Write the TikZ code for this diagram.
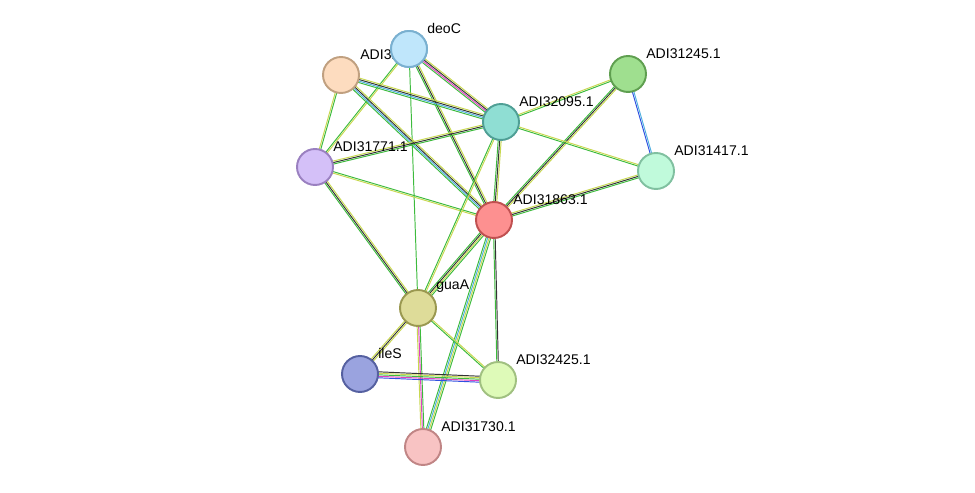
\documentclass[tikz,border=0pt]{standalone}
\usepackage{fontspec}
\setmainfont{Liberation Sans}
\usetikzlibrary{calc,backgrounds}
\definecolor{egreen}{HTML}{3DBB3D}
\definecolor{eyellow}{HTML}{C8D850}
\definecolor{eblack}{HTML}{333333}
\definecolor{eblue}{HTML}{3050E0}
\definecolor{emag}{HTML}{E040C0}
\definecolor{elblue}{HTML}{50B0E0}
\newcommand\pcol[3]{\definecolor{#1f}{HTML}{#2}\definecolor{#1d}{HTML}{#3}}
\pcol{deo}{BFE6FB}{7AB0D0}
\pcol{pea}{FDDCBF}{C0A080}
\pcol{grn}{9FDF8F}{5F9F50}
\pcol{tea}{8FDED3}{4F9F95}
\pcol{lav}{D4C0F8}{9A80C0}
\pcol{min}{C0FADB}{80C0A0}
\pcol{red}{FD9090}{C05050}
\pcol{kha}{DEDC99}{9A9850}
\pcol{ile}{9AA3DF}{5560A0}
\pcol{pal}{DEFAB8}{A0C080}
\pcol{pin}{F8C3C3}{C08585}
\tikzset{
  prot/.style={circle,minimum size=0.72cm,line width=1.1pt,fill=#1f,draw=#1d},
  lab/.style={font=\fontsize{8}{9}\selectfont,inner sep=0pt,anchor=south west}
}
% n-line edge between two named nodes
\newcommand\stredge[4]{%
  \foreach \c [count=\i] in {#4} {%
    \pgfmathsetmacro\o{(\i-(#3+1)/2)*0.85}
    \draw[\c,line width=0.55pt] ($(#1)!\o pt!90:(#2)$) -- ($(#2)!\o pt!-90:(#1)$);
  }}
\begin{document}
\begin{tikzpicture}[x=0.02cm,y=-0.02cm]
\useasboundingbox (0,0) rectangle (975,493);

\node[prot=deo] (deoC) at (409,49) {};
\node[prot=pea] (a31) at (341,75) {};
\node[prot=grn] (a31245) at (628,74) {};
\node[prot=tea] (a32095) at (501,122) {};
\node[prot=lav] (a31771) at (315,167) {};
\node[prot=min] (a31417) at (656,171) {};
\node[prot=red] (a31863) at (494,220) {};
\node[prot=kha] (guaA) at (418,308) {};
\node[prot=ile] (ileS) at (360,374) {};
\node[prot=pal] (a32425) at (498,380) {};
\node[prot=pin] (a31730) at (423,447) {};

\node[lab] at (360,60) {ADI31};
\node[prot=deo] at (409,49) {};
\node[lab] at (427,34) {deoC};
\node[lab] at (646,59) {ADI31245.1};
\node[lab] at (519,107) {ADI32095.1};
\node[lab] at (333,152) {ADI31771.1};
\node[lab] at (674,156) {ADI31417.1};
\node[lab] at (513,205) {ADI31863.1};
\node[lab] at (436,293) {guaA};
\node[lab] at (378,359) {ileS};
\node[lab] at (516,365) {ADI32425.1};
\node[lab] at (441,432) {ADI31730.1};

\begin{pgfonlayer}{background}
\stredge{deoC}{a32095}{4}{egreen,emag,eblack,eyellow}
\stredge{deoC}{a31863}{3}{egreen,eblack,eyellow}
\stredge{deoC}{guaA}{1}{egreen}
\stredge{deoC}{a31771}{2}{egreen,eyellow}
\stredge{a31}{a32095}{4}{egreen,elblue,eblack,eyellow}
\stredge{a31}{a31863}{4}{egreen,elblue,eblack,eyellow}
\stredge{a31}{a31771}{2}{eyellow,egreen}
\stredge{a31771}{a32095}{3}{egreen,eblack,eyellow}
\stredge{a31771}{a31863}{2}{eyellow,egreen}
\stredge{a31771}{guaA}{3}{egreen,eblack,eyellow}
\stredge{a31245}{a32095}{2}{eyellow,egreen}
\stredge{a31245}{a31863}{3}{egreen,eblack,eyellow}
\stredge{a31245}{a31417}{2}{eblue,elblue}
\stredge{a32095}{a31417}{2}{egreen,eyellow}
\stredge{a32095}{a31863}{3}{egreen,eblack,eyellow}
\stredge{a32095}{guaA}{2}{egreen,eyellow}
\stredge{a31417}{a31863}{3}{eyellow,eblack,egreen}
\stredge{a31863}{guaA}{4}{egreen,eblack,eyellow,egreen}
\stredge{a31863}{a32425}{2}{egreen,eblack}
\stredge{a31863}{a31730}{4}{egreen,elblue,eyellow,egreen}
\stredge{guaA}{ileS}{3}{eyellow,eblack,eyellow}
\stredge{guaA}{a32425}{2}{egreen,eyellow}
\stredge{guaA}{a31730}{3}{eyellow,emag,egreen}
\stredge{ileS}{a32425}{5}{eblue,emag,egreen,eyellow,eblack}
\end{pgfonlayer}
\end{tikzpicture}
\end{document}
